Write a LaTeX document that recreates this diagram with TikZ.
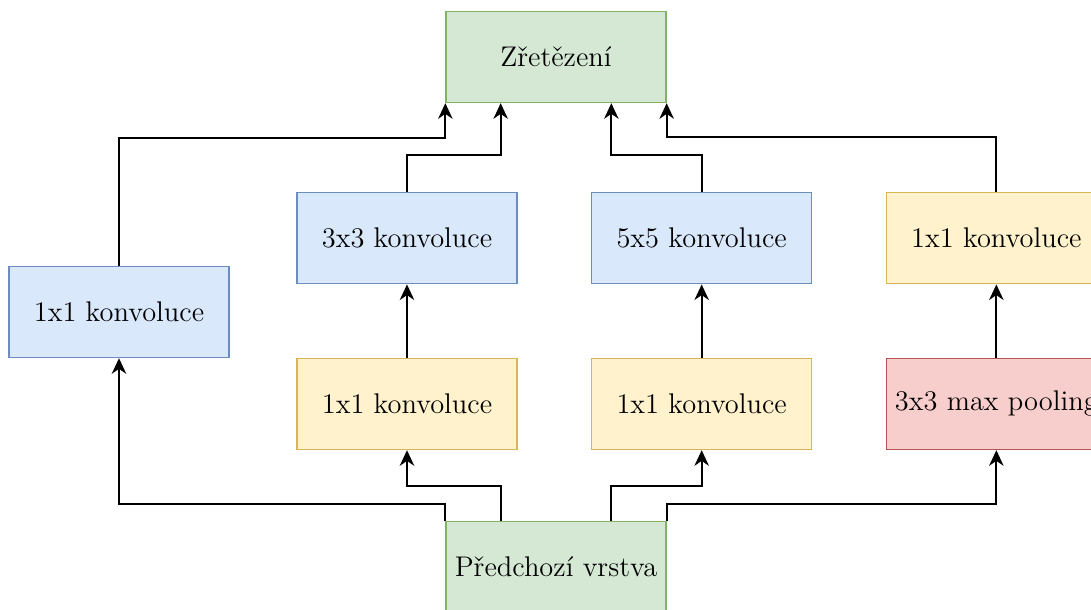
\documentclass[tikz,border=0pt]{standalone}
\usepackage{tikz}
\usetikzlibrary{positioning}
\usetikzlibrary{calc,arrows.meta}

\definecolor{grnfill}{HTML}{D5E8D4}
\definecolor{grnline}{HTML}{82B366}
\definecolor{blufill}{HTML}{DAE8FC}
\definecolor{bluline}{HTML}{6C8EBF}
\definecolor{ylwfill}{HTML}{FFF2CC}
\definecolor{ylwline}{HTML}{D6B656}
\definecolor{redfill}{HTML}{F8CECC}
\definecolor{redline}{HTML}{B85450}

\begin{document}
\begin{tikzpicture}[x=0.45pt,y=0.45pt,node distance=33pt,
    box/.style={draw,line width=0.6pt,minimum width=99pt,minimum height=41pt,inner sep=0pt,
      font=\fontsize{12.8}{14}\selectfont},
    grn/.style={box,fill=grnfill,draw=grnline},
    blu/.style={box,fill=blufill,draw=bluline},
    ylw/.style={box,fill=ylwfill,draw=ylwline},
    red/.style={box,fill=redfill,draw=redline},
    arr/.style={-{Stealth[length=7pt,width=6.5pt,inset=2.2pt]},line width=0.85pt}]
   \useasboundingbox (0,0) rectangle (1091,610);

   \node (Z)   [grn] at (556,553) {Zřetězení};
   \node (P)   [grn] at (556,43)  {Předchozí vrstva};
   \node (K1)  [blu] at (119,298) {1x1 konvoluce};
   \node (A1)  [ylw] at (407,206) {1x1 konvoluce};
   \node (B1)  [ylw, right=of A1] {1x1 konvoluce};
   \node (MP)  [red, right=of B1] {3x3 max pooling};
   \node (K3)  [blu, above=of A1] {3x3 konvoluce};
   \node (K5)  [blu, above=of B1] {5x5 konvoluce};
   \node (K1r) [ylw, above=of MP] {1x1 konvoluce};

   \draw[arr] (P.north west) -- ++(0,17) -| (K1.south);
   \draw[arr] ($(P.north west)!.25!(P.north east)$) -- ++(0,35) -| (A1.south);
   \draw[arr] ($(P.north west)!.75!(P.north east)$) -- ++(0,35) -| (B1.south);
   \draw[arr] (P.north east) -- ++(0,17) -| (MP.south);

   \draw[arr] (A1) -- (K3);
   \draw[arr] (B1) -- (K5);
   \draw[arr] (MP) -- (K1r);

   \draw[arr] (K1.north) -- ++(0,128) -| (Z.south west);
   \draw[arr] (K3.north) -- ++(0,37) -| ($(Z.south west)!.25!(Z.south east)$);
   \draw[arr] (K5.north) -- ++(0,37) -| ($(Z.south west)!.75!(Z.south east)$);
   \draw[arr] (K1r.north) -- ++(0,55) -| (Z.south east);
\end{tikzpicture}
\end{document}
